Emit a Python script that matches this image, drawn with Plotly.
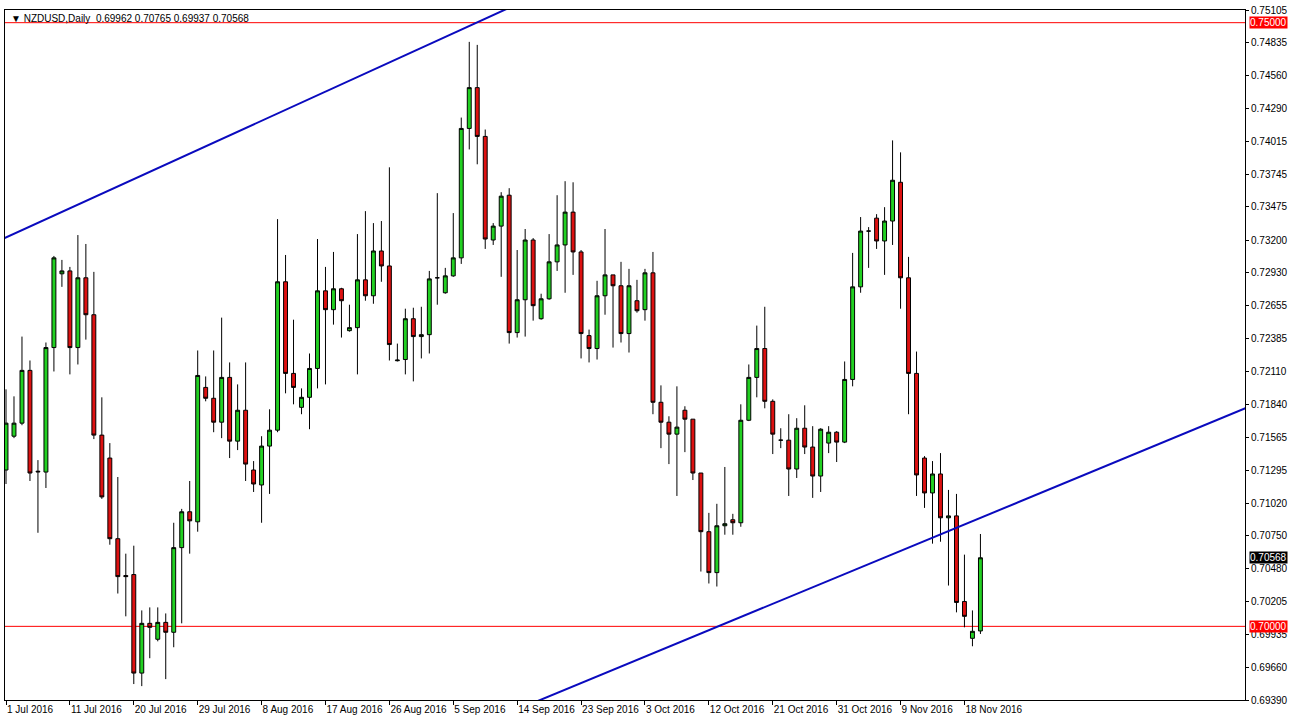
import plotly.graph_objects as go

# ---- data (NZDUSD daily) ----
open_ = [0.71295,0.71575,0.71683,0.72120,0.71285,0.71278,0.72309,0.72920,0.72944,0.72309,
         0.72887,0.72581,0.71584,0.71394,0.70726,0.70421,0.70429,0.69613,0.70025,0.69893,
         0.70033,0.69951,0.70652,0.70949,0.70866,0.71979,0.71889,0.71691,0.72062,0.71534,
         0.71790,0.71295,0.71171,0.71493,0.71625,0.72854,0.72095,0.71814,0.71897,0.72136,
         0.72779,0.72623,0.72796,0.72449,0.72474,0.72870,0.72738,0.73109,0.72985,0.72200,
         0.72210,0.72548,0.72400,0.72416,0.72887,0.72763,0.72903,0.73052,0.74124,0.74462,
         0.74058,0.73200,0.73315,0.73571,0.72433,0.72705,0.73200,0.72548,0.72713,0.73019,
         0.73159,0.73431,0.73101,0.72408,0.72301,0.72738,0.72911,0.72821,0.72425,0.72697,
         0.72623,0.72928,0.71856,0.71691,0.71592,0.71790,0.71716,0.71270,0.70784,0.70445,
         0.70833,0.70883,0.70858,0.71707,0.72062,0.72301,0.71864,0.71542,0.71542,0.71303,
         0.71641,0.71485,0.71245,0.71518,0.71608,0.71526,0.72045,0.72812,0.73274,0.73381,
         0.73192,0.73357,0.73678,0.72887,0.72095,0.71394,0.71105,0.71262,0.70899,0.70915,
         0.70206,0.69901,0.69962]
high = [0.71963,0.71905,0.72400,0.72202,0.71377,0.72351,0.73068,0.73035,0.72977,0.73241,
        0.73167,0.72936,0.71897,0.71518,0.71237,0.70602,0.70668,0.70132,0.70157,0.70157,
        0.70107,0.70858,0.70973,0.71204,0.72285,0.72070,0.72285,0.72557,0.72186,0.72004,
        0.72186,0.71369,0.71575,0.71798,0.73373,0.73076,0.72540,0.71971,0.72260,0.73208,
        0.72977,0.73101,0.72804,0.72664,0.73249,0.73439,0.73340,0.73357,0.73802,0.72342,
        0.72631,0.72639,0.72647,0.72944,0.73588,0.72969,0.73423,0.74214,0.74841,0.74816,
        0.74115,0.73340,0.73596,0.73629,0.73117,0.73291,0.73216,0.72755,0.73249,0.73571,
        0.73687,0.73678,0.73117,0.72458,0.72862,0.73291,0.72911,0.73019,0.72961,0.72870,
        0.72961,0.73101,0.71996,0.71740,0.71988,0.71823,0.71716,0.71270,0.70940,0.71015,
        0.71320,0.70932,0.71839,0.72169,0.72491,0.72647,0.71880,0.71641,0.71757,0.71724,
        0.71831,0.71658,0.71641,0.71658,0.71617,0.72194,0.73093,0.73390,0.73307,0.73414,
        0.73472,0.74025,0.73926,0.73060,0.72276,0.71410,0.71369,0.71435,0.71130,0.71097,
        0.70594,0.70132,0.70765]
low = [0.71179,0.71559,0.71666,0.71204,0.70775,0.71146,0.72111,0.72812,0.72087,0.72169,
       0.72375,0.71551,0.71056,0.70676,0.70272,0.70083,0.69522,0.69505,0.69736,0.69876,
       0.69563,0.69827,0.70025,0.70602,0.70784,0.71864,0.71608,0.71559,0.71394,0.71460,
       0.71204,0.71113,0.70858,0.71097,0.71608,0.71930,0.71839,0.71757,0.71633,0.71971,
       0.72004,0.72499,0.72392,0.72441,0.72087,0.72697,0.72672,0.72854,0.72202,0.72194,
       0.72087,0.72029,0.72219,0.72260,0.72664,0.72755,0.72895,0.73002,0.73950,0.73827,
       0.73126,0.73159,0.72895,0.72342,0.72392,0.72400,0.72532,0.72540,0.72705,0.72944,
       0.72763,0.72911,0.72219,0.72186,0.72210,0.72581,0.72309,0.72351,0.72268,0.72598,
       0.72532,0.71757,0.71476,0.71344,0.71080,0.71443,0.71212,0.70454,0.70355,0.70330,
       0.70759,0.70759,0.70825,0.71700,0.71897,0.71806,0.71427,0.71476,0.71080,0.71229,
       0.71427,0.71064,0.71113,0.71435,0.71361,0.71518,0.71988,0.72763,0.72969,0.73126,
       0.72911,0.73159,0.72631,0.71757,0.71080,0.70981,0.70685,0.70701,0.70338,0.70116,
       0.69992,0.69835,0.69937]
close = [0.71683,0.71683,0.72120,0.71270,0.71280,0.72309,0.73052,0.72944,0.72309,0.72887,
         0.72581,0.71584,0.71072,0.70726,0.70412,0.70412,0.69613,0.70025,0.69992,0.70033,
         0.69951,0.70652,0.70949,0.70874,0.72078,0.71889,0.71691,0.72062,0.71534,0.71790,
         0.71344,0.71179,0.71493,0.71625,0.72854,0.72095,0.71979,0.71897,0.72136,0.72779,
         0.72623,0.72796,0.72697,0.72474,0.72870,0.72738,0.73109,0.72985,0.72334,0.72205,
         0.72548,0.72400,0.72416,0.72878,0.72887,0.72903,0.73052,0.74124,0.74462,0.74058,
         0.73208,0.73315,0.73563,0.72433,0.72705,0.73200,0.72656,0.72713,0.73019,0.73159,
         0.73431,0.73101,0.72425,0.72301,0.72738,0.72911,0.72821,0.72425,0.72821,0.72614,
         0.72928,0.71856,0.71691,0.71592,0.71650,0.71716,0.71270,0.70784,0.70445,0.70833,
         0.70850,0.70858,0.71707,0.72062,0.72301,0.71864,0.71592,0.71542,0.71303,0.71641,
         0.71485,0.71245,0.71633,0.71608,0.71526,0.72045,0.72812,0.73274,0.73274,0.73192,
         0.73357,0.73695,0.72887,0.72095,0.71254,0.71105,0.71262,0.70899,0.70915,0.70198,
         0.70083,0.69959,0.70568]

bar_index = list(range(len(close)))

date_tick_pos = [0, 8, 16, 24, 32, 40, 48, 56, 64, 72, 80, 88, 96, 104, 112, 120]
date_tick_text = ["1 Jul 2016", "11 Jul 2016", "20 Jul 2016", "29 Jul 2016", "8 Aug 2016",
                  "17 Aug 2016", "26 Aug 2016", "5 Sep 2016", "14 Sep 2016", "23 Sep 2016",
                  "3 Oct 2016", "12 Oct 2016", "21 Oct 2016", "31 Oct 2016", "9 Nov 2016",
                  "18 Nov 2016"]

price_ticks = [0.75105, 0.74835, 0.74560, 0.74290, 0.74015, 0.73745, 0.73475, 0.73200,
               0.72930, 0.72655, 0.72385, 0.72110, 0.71840, 0.71565, 0.71295, 0.71020,
               0.70750, 0.70480, 0.70205, 0.69935, 0.69660, 0.69390]

level_lines = [0.75000, 0.70000]
last_price = 0.70568

# trendlines (bar index, price) anchor pairs
trend_upper_x = [-2, 66]
trend_upper_y = [0.73161, 0.75214]
trend_lower_x = [66, 156]
trend_lower_y = [0.69366, 0.71829]

FONT = "Liberation Sans, Arial, sans-serif"

fig = go.Figure()

fig.add_trace(go.Candlestick(
    x=bar_index, open=open_, high=high, low=low, close=close,
    increasing=dict(fillcolor="#22D022", line=dict(color="black", width=1)),
    decreasing=dict(fillcolor="#DD1111", line=dict(color="black", width=1)),
    whiskerwidth=0, showlegend=False, hoverinfo="skip",
))

for tx, ty in [(trend_upper_x, trend_upper_y), (trend_lower_x, trend_lower_y)]:
    fig.add_trace(go.Scatter(x=tx, y=ty, mode="lines",
                             line=dict(color="#0A0ABE", width=2),
                             showlegend=False, hoverinfo="skip"))

for lv in level_lines:
    fig.add_shape(type="line", xref="paper", x0=0, x1=1, yref="y", y0=lv, y1=lv,
                  line=dict(color="#FF0000", width=1), layer="below")

for lv in level_lines:
    fig.add_annotation(xref="paper", x=1, xanchor="left", xshift=4, yref="y", y=lv,
                       text=f"{lv:.5f}", showarrow=False, bgcolor="#FF0000",
                       font=dict(family=FONT, size=10, color="white"),
                       borderpad=0)
fig.add_annotation(xref="paper", x=1, xanchor="left", xshift=4, yref="y", y=last_price,
                   text=f"{last_price:.5f}", showarrow=False, bgcolor="black",
                   font=dict(family=FONT, size=10, color="white"),
                   borderpad=0)

title_text = (f"\u25BC NZDUSD,Daily  {open_[-1]:.5f} {high[-1]:.5f} "
              f"{low[-1]:.5f} {close[-1]:.5f}")
fig.add_annotation(xref="paper", yref="paper", x=0, y=1, xanchor="left", yanchor="top",
                   xshift=4, yshift=-1, text=title_text, showarrow=False,
                   font=dict(family=FONT, size=10, color="black"))

tick_font = dict(family=FONT, size=10, color="black")

fig.update_layout(
    width=1292, height=726,
    margin=dict(l=4, r=46, t=6, b=26),
    paper_bgcolor="white", plot_bgcolor="white",
    boxgap=0.3,
    font=tick_font,
    xaxis=dict(
        range=[-0.125, 155.125], rangeslider=dict(visible=False),
        tickmode="array", tickvals=date_tick_pos, ticktext=date_tick_text,
        ticks="outside", ticklen=4, tickcolor="black", tickangle=0,
        ticklabelposition="outside right",
        showgrid=False, zeroline=False,
        showline=True, linecolor="black", linewidth=1, mirror=True,
        tickfont=tick_font,
    ),
    yaxis=dict(
        range=[0.69390, 0.75105], side="right",
        tickmode="array", tickvals=price_ticks,
        ticktext=[f"{v:.5f}" for v in price_ticks],
        ticks="outside", ticklen=3, tickcolor="black",
        showgrid=False, zeroline=False,
        showline=True, linecolor="black", linewidth=1, mirror=True,
        tickfont=tick_font,
    ),
)

fig.write_html("out.html",
               config={"displayModeBar": False},
               post_script="document.body.style.margin='0px';document.body.style.overflow='hidden';")
